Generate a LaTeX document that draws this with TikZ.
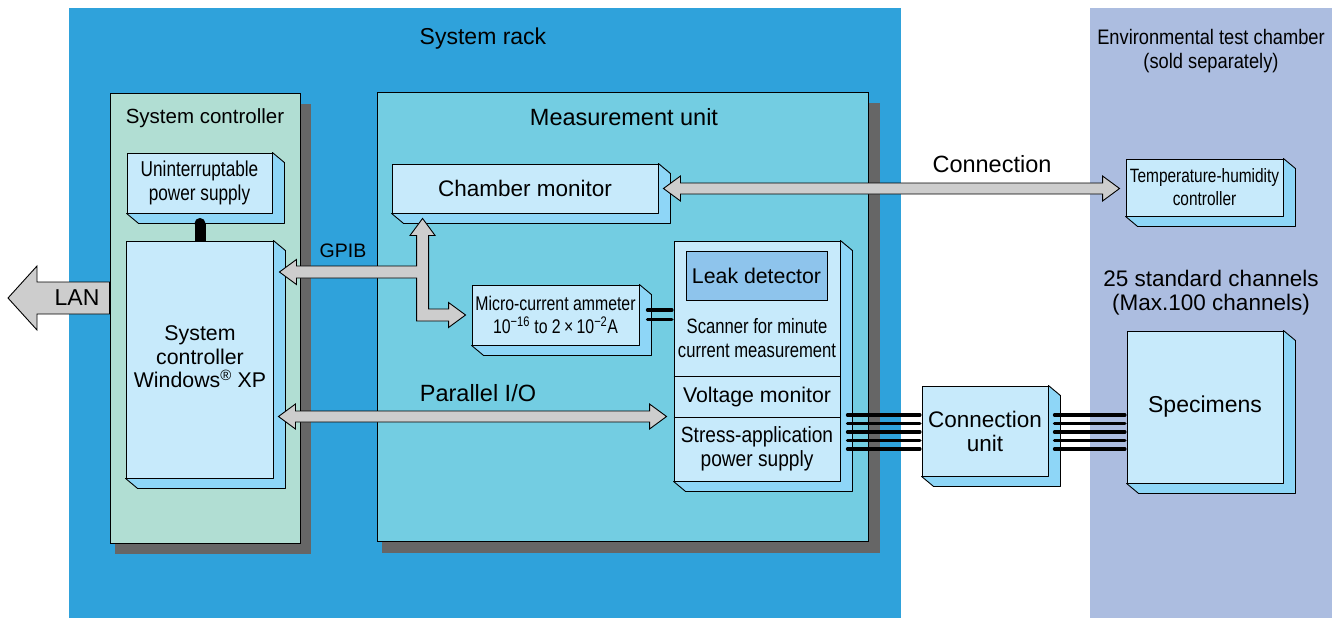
\documentclass[tikz,border=0pt]{standalone}
\usepackage{fontspec}
\setmainfont{Liberation Sans}
\newfontfamily\narrowfont[FakeStretch=0.8]{Liberation Sans}
\newfontfamily\semifont[FakeStretch=0.87]{Liberation Sans}
\usetikzlibrary{calc}
\definecolor{rackc}{HTML}{2FA2DB}
\definecolor{envc}{HTML}{ACBDE0}
\definecolor{scpc}{HTML}{B1DED3}
\definecolor{muc}{HTML}{73CDE2}
\definecolor{shadowc}{HTML}{666666}
\definecolor{frontc}{HTML}{C7EAFB}
\definecolor{sidec}{HTML}{8ED6F7}
\definecolor{leakc}{HTML}{8EC4EC}
\definecolor{arrc}{HTML}{CDCDCD}
\newcommand\sideface[1]{%
  \filldraw[fill=sidec, draw=black, line width=0.9pt, line join=round]
    (#1.north east) -- ++(12,10) -- ($(#1.south east)+(12,10)$) --
    ($(#1.south west)+(12,10)$) -- (#1.south west) -- (#1.south east) -- cycle;}
\newcommand\hdarrow[2]{%
  \draw[barr] (#1) -- ++(17,-12.5) -- ++(0,7) -- ($(#2)+(-17,-5.5)$) -- ++(0,-7) --
    (#2) -- ++(-17,12.5) -- ++(0,-7) -- ($(#1)+(17,5.5)$) -- ++(0,7) -- cycle;}
\begin{document}
\begin{tikzpicture}[x=1pt,y=-1pt,
  box/.style={draw, line width=0.9pt, fill=frontc, inner sep=0pt, align=center, anchor=center},
  panel/.style={draw, line width=0.9pt, inner sep=0pt},
  lbl/.style={inner sep=0pt, align=center},
  barr/.style={fill=arrc, draw=black, line width=0.9pt, line join=miter},
  bus/.style={line width=3.2pt, line cap=round},
  fA/.style={font=\fontsize{23.5}{26}\selectfont},
  fB/.style={font=\fontsize{21.3}{23.5}\selectfont},
  fN/.style={font=\narrowfont\fontsize{21}{24}\selectfont}]
\useasboundingbox (0,0) rectangle (1340,618);
% background regions
\fill[rackc] (69,8) rectangle (901,618);
\fill[envc] (1090,8) rectangle (1332,618);
% panels with shadows
\fill[shadowc] (115,104) rectangle (311,554);
\node[panel, fill=scpc, minimum width=190, minimum height=450] (scpanel) at (205,318) {};
\fill[shadowc] (382,103) rectangle (880,553);
\node[panel, fill=muc, minimum width=491, minimum height=449] (mupanel) at (622.5,316.5) {};
% titles
\node[lbl, font=\fontsize{23}{26}\selectfont] (trk) at (483,39) {System rack};
\node[lbl, font=\semifont\fontsize{21}{23.5}\selectfont] (tenv) at (1211,51) {Environmental test chamber\\(sold separately)};
\node[lbl, font=\fontsize{20.5}{24}\selectfont] (tsc) at (205,118) {System controller};
\node[lbl, fA] (tmu) at (624,117) {Measurement unit};
% boxes
\node[box, font=\narrowfont\fontsize{21.5}{24}\selectfont, minimum width=145, minimum height=60] (ups) at (199.5,183) {Uninterruptable\\power supply};
\sideface{ups}
\node[box, minimum width=147, minimum height=237] (sc) at (199.5,359.5) {};
\sideface{sc}
\node[lbl, fB] (sctxt) at (200,357) {System\\controller\\Windows\textsuperscript{\textregistered} XP};
% UPS to controller link
\draw[line width=11pt] ($(ups.south)+(0.5,10)$) -- ($(sc.north)+(0.5,0)$);
\fill ($(ups.south)+(0.5,10)$) circle (5.5);
\node[box, font=\fontsize{22.5}{25}\selectfont, minimum width=266, minimum height=49] (cm) at (525,188.5) {Chamber monitor};
\sideface{cm}
\node[box, font=\narrowfont\fontsize{19.3}{23}\selectfont, minimum width=157, minimum height=57] (th) at (1204.5,187.5) {Temperature-humidity\\controller};
\sideface{th}
\node[box, font=\narrowfont\fontsize{19.8}{23}\selectfont, minimum width=167, minimum height=60] (am) at (555.5,315) {Micro-current ammeter\\10\textsuperscript{−16} to 2\,×\,10\textsuperscript{−2}A};
\sideface{am}
\node[box, minimum width=166, minimum height=240] (scan) at (757,361) {};
\sideface{scan}
\node[box, fill=leakc, fB, minimum width=141, minimum height=49] (leak) at (756.5,275.5) {Leak detector};
\node[lbl, font=\narrowfont\fontsize{20.8}{24}\selectfont] (scantxt) at (757,338) {Scanner for minute\\current measurement};
\draw[line width=0.9pt] ($(scan.north west)+(0,136)$) -- ($(scan.north east)+(0,136)$);
\draw[line width=0.9pt] ($(scan.north west)+(0,177)$) -- ($(scan.north east)+(0,177)$);
\node[lbl, fB] (vm) at (757,397) {Voltage monitor};
\node[lbl, font=\semifont\fontsize{22}{24}\selectfont] (sap) at (757,449) {Stress-application\\power supply};
\node[box, font=\fontsize{22.5}{24}\selectfont, minimum width=126, minimum height=90] (cu) at (985,431) {Connection\\unit};
\sideface{cu}
\node[box, font=\fontsize{23}{25}\selectfont, minimum width=156, minimum height=152] (sp) at (1205,407) {Specimens};
\sideface{sp}
\node[lbl, font=\fontsize{22.5}{24}\selectfont] (chn) at (1211,293) {25 standard channels\\(Max.100 channels)};
% LAN arrow
\coordinate (lanT) at (8,298);
\coordinate (lanE) at ($(scpanel.west)+(0,-20)$);
\draw[barr] (lanT) -- ++(29,-32) -- ++(0,16) -- ($(lanE)+(0,-16)$) -- ($(lanE)+(0,16)$) --
  ($(lanT)+(29,16)$) -- ++(0,16) -- cycle;
\node[lbl, font=\fontsize{23}{25}\selectfont] (lan) at (77,298) {LAN};
% Connection arrow
\coordinate (cmR) at ($(cm.east)+(5,0)$);
\coordinate (thL) at ($(cmR -| th.west)+(-6,0)$);
\hdarrow{cmR}{thL}
\node[lbl, fA] (lconn) at (992,164) {Connection};
% Parallel I/O arrow
\coordinate (pioL) at ($(sc.east)+(5,57)$);
\coordinate (pioR) at ($(pioL -| scan.west)+(-7,0)$);
\hdarrow{pioL}{pioR}
\node[lbl, fA] (lpio) at (478,393) {Parallel I/O};
% GPIB arrow
\coordinate (gL) at ($(sc.east)+(6,-87.5)$);
\coordinate (gT) at ($(cm.south west)+(31,5)$);
\coordinate (gR) at ($(am.west)+(-6,0)$);
\draw[barr] let \p1=(gL), \p2=(gT), \p3=(gR) in
  (\p1) -- ++(17,-12.5) -- ++(0,6.5) -- (\x2-6pt,\y1+6pt) -- (\x2-6pt,\y2-17pt) -- ++(-6.5,0) --
  (\p2) -- (\x2+12.5pt,\y2-17pt) -- ++(-6.5,0) -- (\x2+6pt,\y3+6pt) -- (\x3-17pt,\y3+6pt) --
  ++(0,-6.5) -- (\p3) -- (\x3-17pt,\y3-12.5pt) -- ++(0,-6.5) -- (\x2-6pt,\y3-6pt) --
  (\x2-6pt,\y1-6pt) -- (\x1+17pt,\y1-6pt) -- ++(0,6.5) -- cycle;
\node[lbl, font=\fontsize{19.5}{22}\selectfont] (lgpib) at (343,251) {GPIB};
% ammeter to scanner
\foreach \dy in {-5,4.5} {
  \path ($(am.east)+(8,\dy)$) coordinate (amA);
  \draw[bus, shorten >=1.6pt] (amA) -- (amA -| scan.west);
}
% scanner to connection unit, connection unit to specimens
\foreach \dy in {54,62.5,71,79.5,88} {
  \path ($(scan.east)+(7,\dy)$) coordinate (bsA);
  \draw[bus, shorten >=1.6pt] (bsA) -- (bsA -| cu.west);
  \path (bsA -| cu.east) ++(6,0) coordinate (bsB);
  \draw[bus, shorten >=1.6pt] (bsB) -- (bsB -| sp.west);
}
\end{tikzpicture}
\end{document}
